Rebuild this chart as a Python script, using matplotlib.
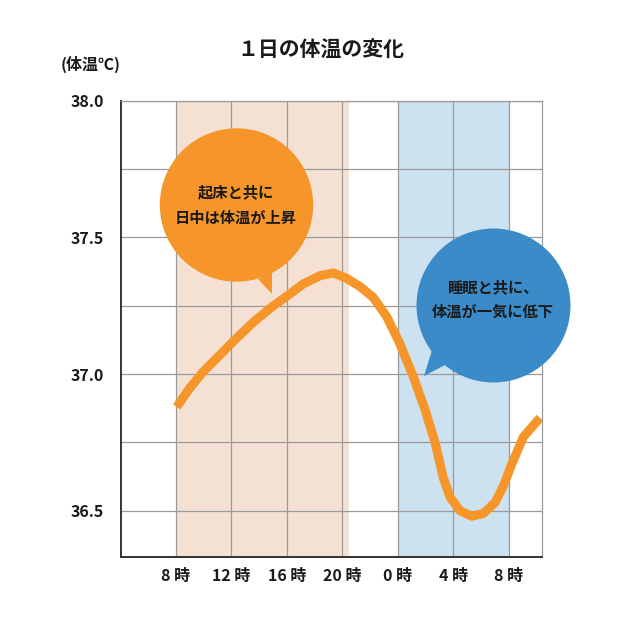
import matplotlib.pyplot as plt
from matplotlib.patches import Circle, Polygon

plt.rcParams['font.family'] = ['Noto Sans CJK JP', 'DejaVu Sans']

# hours counted from 0 o'clock of day 1 (24 = next midnight)
hours = [8.07, 9.03, 10.0, 11.19, 12.15, 13.59, 15.03, 15.87, 17.19, 18.39,
         19.35, 20.31, 21.27, 22.23, 23.19, 24.15, 25.11, 25.95, 26.67, 27.27,
         27.75, 28.47, 29.31, 30.15, 30.99, 31.59, 32.19, 33.03, 34.23]
temps = [36.88, 36.95, 37.01, 37.07, 37.12, 37.19, 37.25, 37.28, 37.33, 37.36,
         37.37, 37.35, 37.32, 37.28, 37.21, 37.11, 36.99, 36.87, 36.75, 36.62,
         36.55, 36.50, 36.48, 36.49, 36.53, 36.59, 36.67, 36.77, 36.84]
tick_hours = [8, 12, 16, 20, 24, 28, 32]
tick_labels = ['8 時', '12 時', '16 時', '20 時', '0 時', '4 時', '8 時']
y_ticks = [36.5, 37.0, 37.5, 38.0]
y_minor = [36.75, 37.25, 37.75]
day_span = (8, 20.5)
night_span = (24, 32)

orange = '#f5952a'
blue = '#3a8bc8'
text_col = '#1a1a1a'

fig = plt.figure(figsize=(6.4, 6.22), dpi=100)
ax = fig.add_axes([0.1886, 0.105, 0.6578, 0.7331])

ax.axvspan(*day_span, color='#f5e1d4', lw=0, zorder=0)
ax.axvspan(*night_span, color='#cde2f1', lw=0, zorder=0)

ax.plot(hours, temps, color=orange, lw=6.5, solid_capstyle='butt',
        solid_joinstyle='round', zorder=3)

ax.set_xlim(4.04, 34.35)
ax.set_ylim(36.332, 38.0)
ax.set_xticks(tick_hours)
ax.set_xticklabels(tick_labels)
ax.set_yticks(y_ticks)
ax.set_yticklabels(['{:.1f}'.format(v) for v in y_ticks])
ax.set_yticks(y_minor, minor=True)
ax.grid(True, which='both', color='#9a9a9a', lw=0.9)
for line in ax.get_xgridlines() + ax.get_ygridlines():
    line.set_zorder(1)
ax.tick_params(which='both', length=0)
ax.tick_params(axis='y', pad=12, labelsize=11.5)
ax.tick_params(axis='x', pad=8, labelsize=11.5)
for lab in ax.get_xticklabels() + ax.get_yticklabels():
    lab.set_fontweight('bold')
    lab.set_color(text_col)

for side in ['top', 'right']:
    ax.spines[side].set_color('#9a9a9a')
    ax.spines[side].set_linewidth(0.9)
for side in ['left', 'bottom']:
    ax.spines[side].set_color('#333333')
    ax.spines[side].set_linewidth(1.4)

# speech bubbles drawn in figure pixel space
ov = fig.add_axes([0, 0, 1, 1])
ov.set_xlim(0, 640)
ov.set_ylim(622, 0)
ov.axis('off')
ov.patch.set_alpha(0)

ov.add_patch(Circle((236.5, 205), 76.7, color=orange, lw=0))
ov.add_patch(Polygon([(258, 279), (272, 272), (272, 294)], closed=True,
                     color=orange, lw=0))
ov.text(236, 192, '起床と共に', ha='center', va='center', fontsize=11,
        fontweight='bold', color=text_col)
ov.text(236, 218, '日中は体温が上昇', ha='center', va='center', fontsize=11,
        fontweight='bold', color=text_col)

ov.add_patch(Circle((493.5, 305.5), 77, color=blue, lw=0))
ov.add_patch(Polygon([(432, 350), (447, 364), (424, 376)], closed=True,
                     color=blue, lw=0))
ov.text(493, 287, '睡眠と共に、', ha='center', va='center', fontsize=11,
        fontweight='bold', color=text_col)
ov.text(493, 312, '体温が一気に低下', ha='center', va='center', fontsize=11,
        fontweight='bold', color=text_col)

fig.text(321 / 640, 1 - 50 / 622, '１日の体温の変化', ha='center', va='center',
         fontsize=15, fontweight='bold', color=text_col)
fig.text(91 / 640, 1 - 64 / 622, '(体温℃)', ha='center', va='center',
         fontsize=11.5, fontweight='bold', color=text_col)

fig.savefig('out.png', dpi=100, facecolor='white')
